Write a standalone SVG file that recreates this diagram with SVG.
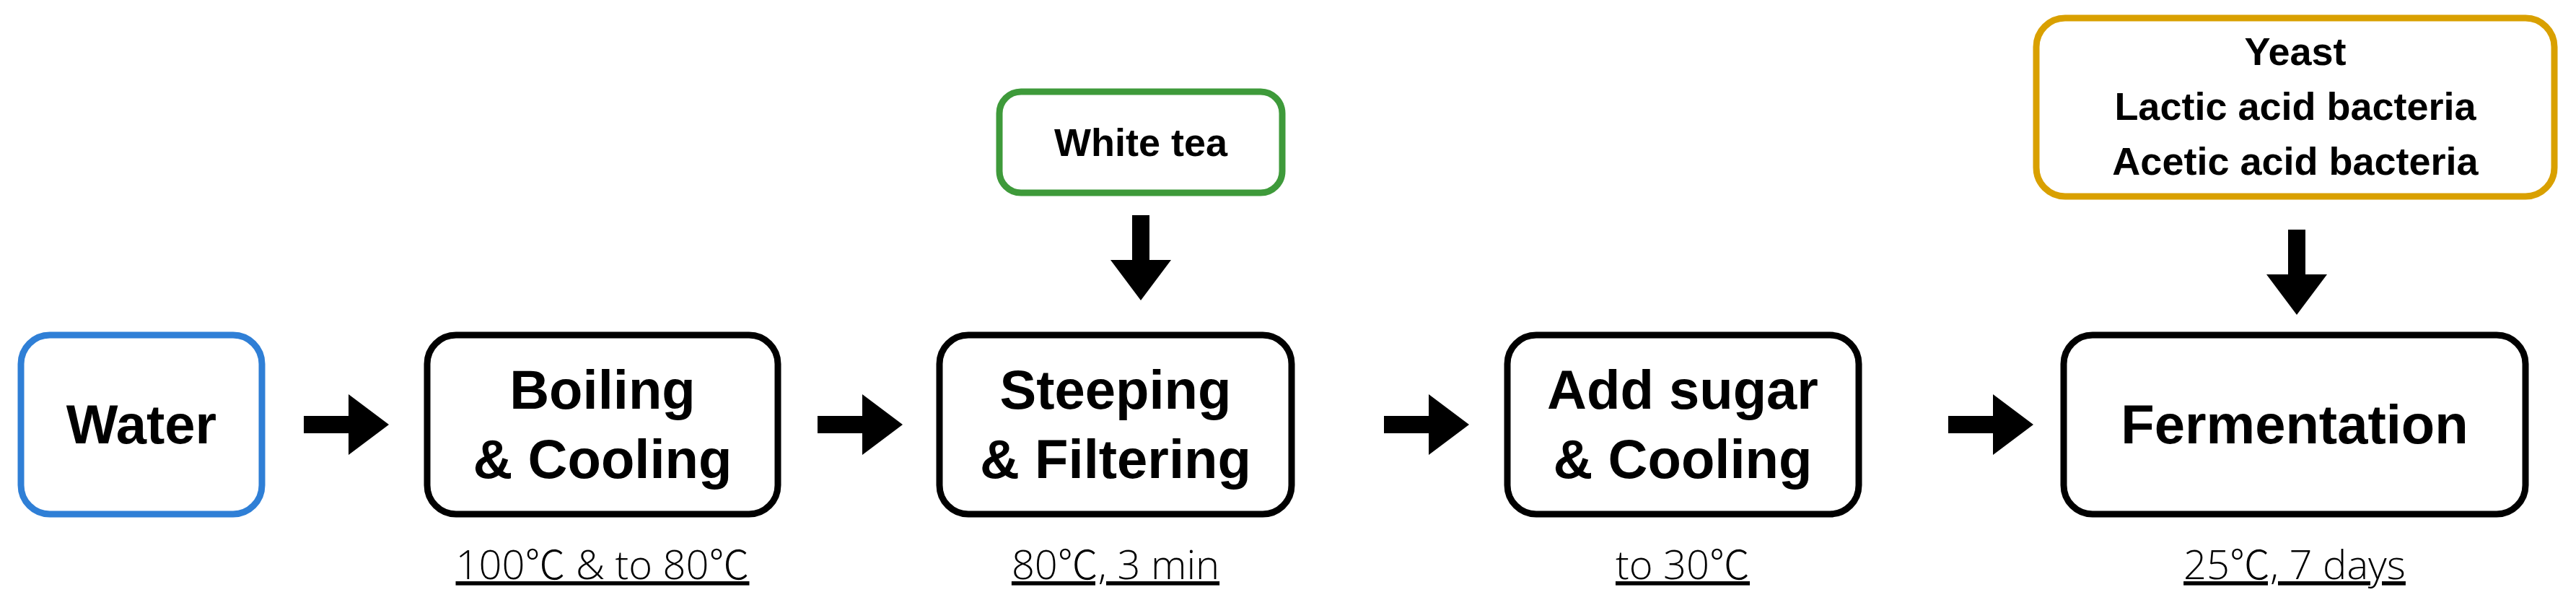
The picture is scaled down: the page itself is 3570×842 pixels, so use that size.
<svg xmlns="http://www.w3.org/2000/svg" width="3570" height="842" viewBox="0 0 3570 842">
<style>
.b{fill:#fff;stroke:#000;stroke-width:9}
.t{font-family:"Liberation Sans",Arial,sans-serif;font-weight:bold;text-anchor:middle;fill:#000}
.m{font-size:76px}
.s{font-size:54px}
.c{font-family:"Open Sans","Noto Sans CJK JP","Liberation Sans",sans-serif;font-weight:300;font-size:56px;text-anchor:middle;text-decoration:underline;fill:#000}
</style>
<defs>
<path id="ar" d="M0,-12 H62 V-42 L118,0 L62,42 V12 H0 Z" fill="#000"/>
</defs>
<rect width="3570" height="842" fill="#fff"/>
<g id="water"><rect class="b" x="29" y="464" width="334" height="248" rx="40" style="stroke:#2F7FD6"/><text class="t m" x="196" y="614">Water</text></g>
<g id="boiling"><rect class="b" x="592" y="464" width="486" height="248" rx="40"/><text class="t m" x="835" y="566">Boiling</text><text class="t m" x="835" y="662">&amp; Cooling</text><text class="c" x="835" y="802">100℃ &amp; to 80℃</text></g>
<g id="steeping"><rect class="b" x="1302" y="464" width="488" height="248" rx="40"/><text class="t m" x="1546" y="566">Steeping</text><text class="t m" x="1546" y="662">&amp; Filtering</text><text class="c" x="1546" y="802">80℃, 3 min</text></g>
<g id="sugar"><rect class="b" x="2089" y="464" width="487" height="248" rx="40"/><text class="t m" x="2332" y="566">Add sugar</text><text class="t m" x="2332" y="662">&amp; Cooling</text><text class="c" x="2332" y="802">to 30℃</text></g>
<g id="fermentation"><rect class="b" x="2860" y="464" width="640" height="248" rx="40"/><text class="t m" x="3180" y="614">Fermentation</text><text class="c" x="3180" y="802">25℃, 7 days</text></g>
<g id="whitetea"><rect class="b" x="1385" y="127" width="392" height="140" rx="30" style="stroke:#3E9A3A"/><text class="t s" x="1581" y="216">White tea</text></g>
<g id="microbes"><rect class="b" x="2822" y="25" width="718" height="247" rx="40" style="stroke:#D9A000"/><text class="t s" x="3181" y="90">Yeast</text><text class="t s" x="3181" y="166">Lactic acid bacteria</text><text class="t s" x="3181" y="242">Acetic acid bacteria</text></g>
<g id="connectors">
<use href="#ar" transform="translate(421,588)"/>
<use href="#ar" transform="translate(1133,588)"/>
<use href="#ar" transform="translate(1918,588)"/>
<use href="#ar" transform="translate(2700,588)"/>
<use href="#ar" transform="translate(1581,298) rotate(90)"/>
<use href="#ar" transform="translate(3183,318) rotate(90)"/>
</g>
</svg>
